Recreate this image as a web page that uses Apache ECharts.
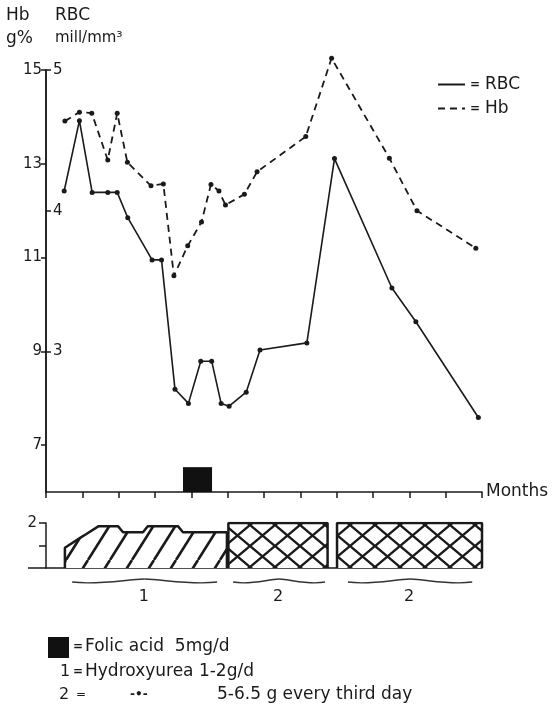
<!DOCTYPE html>
<html>
<head>
<meta charset="utf-8">
<script src="https://cdn.jsdelivr.net/npm/echarts@6/dist/echarts.min.js"></script>
<style>
html,body{margin:0;padding:0;background:#fff}
#c{width:552px;height:707px}
</style>
</head>
<body>
<div id="c"></div>
<script>
// Hb (g%) and RBC (mill/mm3) over the months
var hbMonths = [0.52, 0.92, 1.26, 1.70, 1.96, 2.24, 2.89, 3.23, 3.52, 3.90, 4.28, 4.54, 4.76, 4.94, 5.46, 5.81, 7.15, 7.86, 9.45, 10.21, 11.83];
var hbValues = [13.91, 14.10, 14.08, 13.08, 14.08, 13.03, 12.53, 12.57, 10.61, 11.25, 11.76, 12.56, 12.42, 12.12, 12.35, 12.83, 13.58, 15.25, 13.12, 12.00, 11.20];
var rbcMonths = [0.50, 0.92, 1.27, 1.70, 1.96, 2.25, 2.92, 3.18, 3.55, 3.92, 4.26, 4.56, 4.82, 5.04, 5.51, 5.89, 7.18, 7.94, 9.52, 10.18, 11.90];
var rbcValues = [4.14, 4.64, 4.13, 4.13, 4.13, 3.95, 3.65, 3.65, 2.73, 2.63, 2.93, 2.93, 2.63, 2.61, 2.71, 3.01, 3.06, 4.37, 3.45, 3.21, 2.53];

var hbTicks = [7, 9, 11, 13, 15];
var rbcTicks = [3, 4, 5];

// folic acid period (months) and box height (g%)
var folicStart = 3.77, folicEnd = 4.57, folicTop = 6.53;

// treatment: 1 = hydroxyurea daily, 2 = pulses every third day
var hydroxyMonths = [0.52, 0.52, 0.95, 1.10, 1.45, 1.98, 2.12, 2.67, 2.80, 3.63, 3.77, 4.98, 4.98];
var hydroxyDose = [0, 0.90, 1.35, 1.50, 1.86, 1.86, 1.59, 1.59, 1.86, 1.86, 1.59, 1.59, 0];
var pulseStart = [5.02, 8.01];
var pulseEnd = [7.75, 12.0];
var pulseDose = [2, 2];

var braceFrom = [0.72, 5.15, 8.31];
var braceTo = [4.71, 7.68, 11.73];
var braceLabels = ['1', '2', '2'];

var FONT = 'DejaVu Sans';
var INK = '#1a1a1a';

function pairs(xs, ys) {
    return xs.map(function (x, i) { return [x, ys[i]]; });
}

// hatch fill for the treatment blocks
function hatch(w, h, cross, lw) {
    var c = document.createElement('canvas');
    c.width = w; c.height = h;
    var g = c.getContext('2d');
    g.fillStyle = '#fff';
    g.fillRect(0, 0, w, h);
    g.strokeStyle = INK;
    g.lineWidth = lw;
    g.beginPath();
    for (var k = -1; k <= 1; k++) {
        g.moveTo(k * w, h); g.lineTo(k * w + w, 0);
        if (cross) { g.moveTo(k * w, 0); g.lineTo(k * w + w, h); }
    }
    g.stroke();
    return c;
}
var diag = { image: hatch(22, 35, false, 2.6), repeat: 'repeat' };
var cross = { image: hatch(25, 21, true, 2.4), repeat: 'repeat' };

var blockSeries = pulseStart.map(function (s, i) {
    return {
        type: 'line', xAxisIndex: 1, yAxisIndex: 2, symbol: 'none', silent: true,
        lineStyle: { color: INK, width: 2.5 },
        areaStyle: { color: cross, opacity: 1 },
        data: [[s, 0], [s, pulseDose[i]], [pulseEnd[i], pulseDose[i]], [pulseEnd[i], 0]]
    };
});

var chart = echarts.init(document.getElementById('c'));
var option = {
    animation: false,
    textStyle: { fontFamily: FONT, color: INK },
    grid: [
        { left: 46, right: 70, top: 70, height: 422 },
        { left: 46, right: 70, top: 523, height: 45 }
    ],
    legend: {
        orient: 'vertical', left: 432, top: 71,
        itemWidth: 27, itemHeight: 16, itemGap: 7,
        itemStyle: { opacity: 0 },
        data: ['RBC', 'Hb'],
        formatter: function (n) { return '{eq|=}' + n; },
        textStyle: {
            fontFamily: FONT, fontSize: 17, color: INK,
            rich: { eq: { fontSize: 12, fontWeight: 'bold', padding: [0, 5, 0, 0] } }
        }
    },
    xAxis: [
        {
            type: 'value', gridIndex: 0, min: 0, max: 12, interval: 1,
            axisLine: { lineStyle: { color: INK, width: 1.5 } },
            axisTick: { length: 6, lineStyle: { color: INK, width: 1.5 } },
            axisLabel: { show: false },
            splitLine: { show: false },
            name: 'Months', nameLocation: 'end', nameGap: 4,
            nameTextStyle: { fontFamily: FONT, fontSize: 17, color: INK, padding: [26, 0, 0, 0] }
        },
        {
            type: 'value', gridIndex: 1, min: 0, max: 12,
            axisLine: { lineStyle: { color: INK, width: 1.5 } },
            axisTick: { show: false }, axisLabel: { show: false }, splitLine: { show: false }
        }
    ],
    yAxis: [
        {
            type: 'value', gridIndex: 0, min: 6, max: 15, position: 'left',
            axisLine: { show: true, lineStyle: { color: INK, width: 1.5 } },
            axisTick: { customValues: hbTicks, length: 5, lineStyle: { color: INK, width: 1.5 } },
            axisLabel: { customValues: hbTicks, margin: 4, fontSize: 15, fontFamily: FONT, color: INK },
            splitLine: { show: false }
        },
        {
            type: 'value', gridIndex: 0, min: 2, max: 5, position: 'left',
            axisLine: { show: true, lineStyle: { color: INK, width: 1.5 } },
            axisTick: { customValues: rbcTicks, inside: true, length: 5, lineStyle: { color: INK, width: 1.5 } },
            axisLabel: { customValues: rbcTicks, inside: true, margin: 7, fontSize: 15, fontFamily: FONT, color: INK },
            splitLine: { show: false }
        },
        {
            type: 'value', gridIndex: 1, min: 0, max: 2, position: 'left',
            axisLine: { show: true, lineStyle: { color: INK, width: 1.5 } },
            axisTick: { customValues: [1, 2], length: 7, lineStyle: { color: INK, width: 1.5 } },
            axisLabel: { customValues: [2], margin: 9, fontSize: 15, fontFamily: FONT, color: INK },
            splitLine: { show: false }
        }
    ],
    series: [
        {
            name: 'RBC', type: 'line', xAxisIndex: 0, yAxisIndex: 1, clip: false,
            symbol: 'circle', symbolSize: 5,
            itemStyle: { color: INK },
            lineStyle: { color: INK, width: 1.6 },
            data: pairs(rbcMonths, rbcValues)
        },
        {
            name: 'Hb', type: 'line', xAxisIndex: 0, yAxisIndex: 0, clip: false,
            symbol: 'circle', symbolSize: 5,
            itemStyle: { color: INK },
            lineStyle: { color: INK, width: 1.8, type: [7, 5] },
            data: pairs(hbMonths, hbValues),
            markArea: {
                silent: true,
                itemStyle: { color: '#111', opacity: 1 },
                data: [[{ xAxis: folicStart, yAxis: 6 }, { xAxis: folicEnd, yAxis: folicTop }]]
            }
        },
        {
            type: 'line', xAxisIndex: 1, yAxisIndex: 2, symbol: 'none', silent: true,
            lineStyle: { color: INK, width: 2.5 },
            areaStyle: { color: diag, opacity: 1 },
            data: pairs(hydroxyMonths, hydroxyDose)
        }
    ].concat(blockSeries)
};
chart.setOption(option);

// braces under the treatment blocks, placed through the lower grid's scales
var graphics = [];
braceFrom.forEach(function (f, i) {
    var a = chart.convertToPixel({ gridIndex: 1 }, [f, 0]);
    var b = chart.convertToPixel({ gridIndex: 1 }, [braceTo[i], 0]);
    var y = a[1] + 14, xc = (a[0] + b[0]) / 2, w = xc - a[0];
    graphics.push({
        type: 'bezierCurve', silent: true,
        shape: { x1: a[0], y1: y, x2: xc, y2: y - 3, cpx1: a[0] + w * 0.35, cpy1: y + 3, cpx2: xc - w * 0.3, cpy2: y - 2 },
        style: { stroke: '#333', lineWidth: 1.3, fill: null }
    });
    graphics.push({
        type: 'bezierCurve', silent: true,
        shape: { x1: xc, y1: y - 3, x2: b[0], y2: y, cpx1: xc + w * 0.3, cpy1: y - 2, cpx2: b[0] - w * 0.35, cpy2: y + 3 },
        style: { stroke: '#333', lineWidth: 1.3, fill: null }
    });
    graphics.push({
        type: 'text', left: xc - 6, top: y + 7,
        style: { text: braceLabels[i], font: '16px "' + FONT + '"', fill: INK }
    });
});

// baseline of the treatment panel runs a little past the axis on the left
var base = chart.convertToPixel({ gridIndex: 1 }, [0, 0]);
graphics.push({
    type: 'line', silent: true,
    shape: { x1: 28, y1: base[1], x2: base[0], y2: base[1] },
    style: { stroke: INK, lineWidth: 1.5 }
});

function label(x, y, text, size, weight) {
    return {
        type: 'text', x: x, y: y,
        style: { text: text, fontFamily: FONT, fontSize: size, fontWeight: weight || 'normal', fill: INK, verticalAlign: 'middle' }
    };
}

graphics.push(
    label(6, 16, 'Hb', 17), label(6, 39, 'g%', 17),
    label(55, 16, 'RBC', 17), label(55, 38, 'mill/mm³', 15),
    { type: 'rect', shape: { x: 48, y: 637, width: 21, height: 21 }, style: { fill: '#111' } },
    label(73, 647, '=', 12, 'bold'), label(85, 647, 'Folic acid  5mg/d', 17),
    label(60, 672, '1', 16), label(73, 672, '=', 12, 'bold'), label(85, 672, 'Hydroxyurea 1-2g/d', 17),
    label(59, 695, '2', 16), label(76, 695, '=', 12), label(130, 695, '-•-', 12, 'bold'),
    label(217, 695, '5-6.5 g every third day', 17)
);

chart.setOption({ graphic: graphics });
</script>
</body>
</html>
